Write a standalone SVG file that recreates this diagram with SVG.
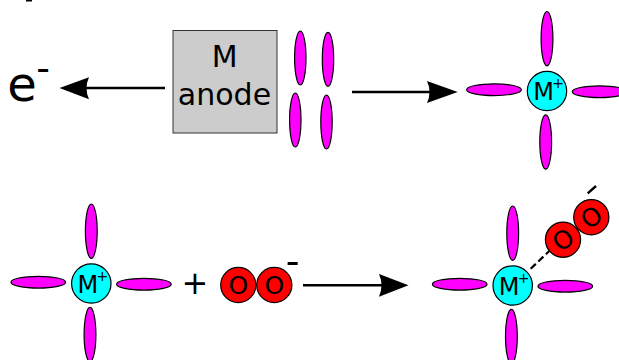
<svg xmlns="http://www.w3.org/2000/svg" width="619" height="360" viewBox="0 0 619 360">
<style>
text{font-family:"DejaVu Sans",sans-serif;fill:#000;text-anchor:middle}
.lig{fill:#f0f;stroke:#000;stroke-width:1.2}
.ion{fill:#0ff;stroke:#000;stroke-width:1.2}
.ox{fill:#f00;stroke:#000;stroke-width:1.2}
.ar{fill:none;stroke:#000;stroke-width:2.4}
.head{fill:#000}
.o{font-size:25px}
.m{font-size:24px}
.p{font-size:14px}
</style>
<defs>
<g id="lig4">
<ellipse class="lig" cx="-53" cy="-1.3" rx="27.3" ry="5.9"/>
<ellipse class="lig" cx="52.6" cy="0.7" rx="27.3" ry="5.9"/>
<ellipse class="lig" cx="0" cy="-52.3" rx="5.9" ry="27.2"/>
<ellipse class="lig" cx="-1.3" cy="51" rx="5.9" ry="27.2"/>
<circle class="ion" r="19.7"/>
<text class="m" x="-3.5" y="9">M</text>
<text class="p" x="11" y="-3">+</text>
</g>
</defs>
<path id="edge-mark" d="M26 0H32V1.500H26Z" fill="#000"/>
<g id="connectors">
<path class="ar" d="M165 88H75"/>
<path class="head" d="M59.500 88L89 77.300Q84 88 89 99.300Z"/>
<path class="ar" d="M352 92H435"/>
<path class="head" d="M457.700 92L427 81Q432 92 427 103Z"/>
<path class="ar" d="M303 285.200H388"/>
<path class="head" d="M408.500 285.300L379 274Q384 285.300 379 296.700Z"/>
<path d="M530.700 268.700L549.300 251" fill="none" stroke="#000" stroke-width="2.200" stroke-dasharray="7 3.500"/>
</g>
<g id="electron">
<text x="22" y="101" font-size="48">e</text>
<text x="43" y="81" font-size="38">-</text>
</g>
<g id="anode">
<rect x="173" y="30.500" width="104" height="102.500" fill="#ccc" stroke="#333" stroke-width="1"/>
<text x="224.700" y="66.500" font-size="30">M</text>
<text x="224.500" y="105" font-size="30">anode</text>
</g>
<g id="ligands">
<ellipse class="lig" cx="300.300" cy="58" rx="5.700" ry="27"/>
<ellipse class="lig" cx="295.300" cy="120" rx="5.700" ry="27"/>
<ellipse class="lig" cx="328" cy="59.300" rx="5.700" ry="27"/>
<ellipse class="lig" cx="326.500" cy="122" rx="5.700" ry="27"/>
</g>
<g id="ion1"><use href="#lig4" x="547" y="91"/></g>
<g id="ion2"><use href="#lig4" x="91.300" y="283.500"/></g>
<g id="ion3"><use href="#lig4" x="512.700" y="285.500"/></g>
<g id="plus"><text x="195" y="294" font-size="32">+</text></g>
<g id="oxygen1">
<circle class="ox" cx="238.300" cy="285" r="17.600"/>
<circle class="ox" cx="274.300" cy="285" r="17.600"/>
<text class="o" x="238.300" y="294">O</text>
<text class="o" x="274.300" y="294">O</text>
<text x="292.500" y="274" font-size="38">-</text>
</g>
<g id="oxygen2">
<circle class="ox" cx="563" cy="239.700" r="17.600"/>
<circle class="ox" cx="591.300" cy="217.200" r="17.600"/>
<text class="o" transform="translate(563 239.700) rotate(-38.500)" y="9">O</text>
<text class="o" transform="translate(591.300 217.200) rotate(-38.500)" y="9">O</text>
<path d="M587.700 193.300L596 186" fill="none" stroke="#000" stroke-width="2.400"/>
</g>
</svg>
